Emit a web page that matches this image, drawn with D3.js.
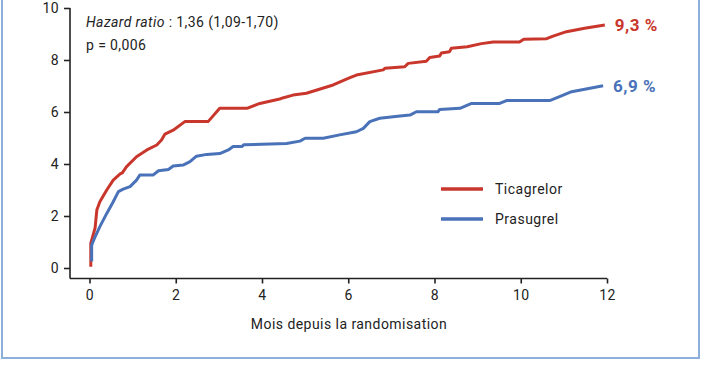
<!DOCTYPE html>
<html>
<head>
<meta charset="utf-8">
<script src="https://cdn.jsdelivr.net/npm/d3@7"></script>
<style>
  body { margin: 0; background: #fff; }
  svg { font-family: Roboto, "DejaVu Sans", sans-serif; }
</style>
</head>
<body>
<div id="chart"></div>
<script>
const width = 702;
const height = 370;

// months since randomisation / cumulative event rate (%)
const ticaMonths = [0.03, 0.03, 0.13, 0.17, 0.24, 0.4, 0.55, 0.71, 0.76, 0.86, 1.09, 1.33, 1.56, 1.67, 1.75, 1.94, 2.21, 2.75, 3.02, 3.65, 3.95, 4.41, 4.5, 4.72, 5.03, 5.65, 6.04, 6.19, 6.81, 6.85, 7.31, 7.39, 7.81, 7.89, 8.12, 8.16, 8.35, 8.39, 8.76, 9.09, 9.36, 9.97, 10.07, 10.6, 10.75, 11.06, 11.48, 11.95];
const ticaRate = [0.05, 0.96, 1.54, 2.23, 2.55, 3.0, 3.38, 3.62, 3.66, 3.9, 4.28, 4.54, 4.73, 4.92, 5.15, 5.3, 5.63, 5.63, 6.14, 6.14, 6.33, 6.5, 6.55, 6.65, 6.72, 7.04, 7.32, 7.42, 7.62, 7.68, 7.74, 7.87, 7.95, 8.1, 8.15, 8.27, 8.32, 8.45, 8.51, 8.63, 8.69, 8.69, 8.8, 8.82, 8.92, 9.09, 9.22, 9.35];

const prasMonths = [0.05, 0.05, 0.13, 0.24, 0.4, 0.55, 0.67, 0.78, 0.94, 1.09, 1.17, 1.48, 1.6, 1.83, 1.94, 2.17, 2.33, 2.48, 2.72, 3.02, 3.22, 3.33, 3.53, 3.58, 4.0, 4.57, 4.88, 5.0, 5.42, 5.8, 6.19, 6.35, 6.5, 6.73, 7.2, 7.43, 7.58, 8.08, 8.12, 8.59, 8.86, 9.51, 9.67, 10.67, 10.9, 11.18, 11.91];
const prasRate = [0.25, 0.88, 1.2, 1.59, 2.1, 2.55, 2.94, 3.03, 3.13, 3.38, 3.58, 3.58, 3.74, 3.79, 3.92, 3.96, 4.09, 4.3, 4.37, 4.4, 4.54, 4.67, 4.67, 4.74, 4.76, 4.79, 4.88, 4.99, 4.99, 5.12, 5.24, 5.37, 5.63, 5.76, 5.85, 5.88, 6.01, 6.01, 6.1, 6.14, 6.33, 6.33, 6.44, 6.44, 6.59, 6.78, 7.01];

const seriesNames = ["Ticagrelor", "Prasugrel"];
const endLabels = ["9,3 %", "6,9 %"];
const xTicks = [0, 2, 4, 6, 8, 10, 12];
const yTicks = [0, 2, 4, 6, 8, 10];

const red = "#c9372c";
const blue = "#4a72b9";
const ink = "#222";
const fontSize = 14;

const svg = d3.select("#chart")
  .append("svg")
    .attr("width", width)
    .attr("height", height);

// frame
svg.append("rect")
  .attr("x", 2)
  .attr("y", -10)
  .attr("width", 697)
  .attr("height", 368)
  .attr("fill", "none")
  .attr("stroke", "#8dafdc")
  .attr("stroke-width", 2);

const x = d3.scaleLinear().domain([0, 12]).range([89.5, 607]);
const y = d3.scaleLinear().domain([0, 10]).range([268, 8]);

// y axis
const yAxis = svg.append("g")
  .attr("transform", "translate(70,0)")
  .call(d3.axisLeft(y).tickValues(yTicks).tickSize(6).tickPadding(5).tickSizeOuter(0));
yAxis.select(".domain").attr("d", `M0,${y(10)}V278.5`);

// x axis
const xAxis = svg.append("g")
  .attr("transform", "translate(0,278.5)")
  .call(d3.axisBottom(x).tickValues(xTicks).tickSize(5).tickPadding(7).tickSizeOuter(0));
xAxis.select(".domain").attr("d", `M70,0H${x(12)}`);

svg.selectAll(".tick text")
  .attr("font-size", fontSize)
  .attr("font-family", "Roboto, sans-serif")
  .attr("letter-spacing", 0.4)
  .attr("fill", ink);
svg.selectAll(".domain, .tick line")
  .attr("stroke", ink)
  .attr("stroke-width", 1.6);

svg.append("text")
  .attr("x", 349)
  .attr("y", 329)
  .attr("text-anchor", "middle")
  .attr("font-size", fontSize)
  .attr("letter-spacing", 0.45)
  .attr("fill", ink)
  .text("Mois depuis la randomisation");

// annotations
const hr = svg.append("text")
  .attr("x", 86)
  .attr("y", 27)
  .attr("font-size", fontSize)
  .attr("letter-spacing", 0.4)
  .attr("fill", ink);
hr.append("tspan").attr("font-style", "italic").text("Hazard ratio");
hr.append("tspan").text(" : 1,36 (1,09-1,70)");

svg.append("text")
  .attr("x", 86)
  .attr("y", 50)
  .attr("font-size", fontSize)
  .attr("letter-spacing", 0.4)
  .attr("fill", ink)
  .text("p = 0,006");

const line = d3.line()
  .x(d => x(d[0]))
  .y(d => y(d[1]));

const series = [
  { name: seriesNames[0], color: red, pts: d3.zip(ticaMonths, ticaRate), label: endLabels[0] },
  { name: seriesNames[1], color: blue, pts: d3.zip(prasMonths, prasRate), label: endLabels[1] }
];

series.forEach(s => {
  svg.append("path")
    .datum(s.pts)
    .attr("fill", "none")
    .attr("stroke", s.color)
    .attr("stroke-width", 3)
    .attr("stroke-linejoin", "round")
    .attr("d", line);

  const last = s.pts[s.pts.length - 1];
  svg.append("text")
    .attr("x", x(last[0]) + 10)
    .attr("y", y(last[1]) + 6)
    .attr("font-size", 17)
    .attr("font-weight", "bold")
    .attr("letter-spacing", 0.5)
    .attr("fill", s.color)
    .text(s.label);
});

// legend
series.forEach((s, i) => {
  const ly = 189 + i * 30;
  svg.append("line")
    .attr("x1", 441).attr("x2", 483)
    .attr("y1", ly).attr("y2", ly)
    .attr("stroke", s.color)
    .attr("stroke-width", 3.5);
  svg.append("text")
    .attr("x", 495)
    .attr("y", ly + 5)
    .attr("font-size", fontSize)
    .attr("letter-spacing", 0.5)
    .attr("fill", ink)
    .text(s.name);
});
</script>
</body>
</html>
